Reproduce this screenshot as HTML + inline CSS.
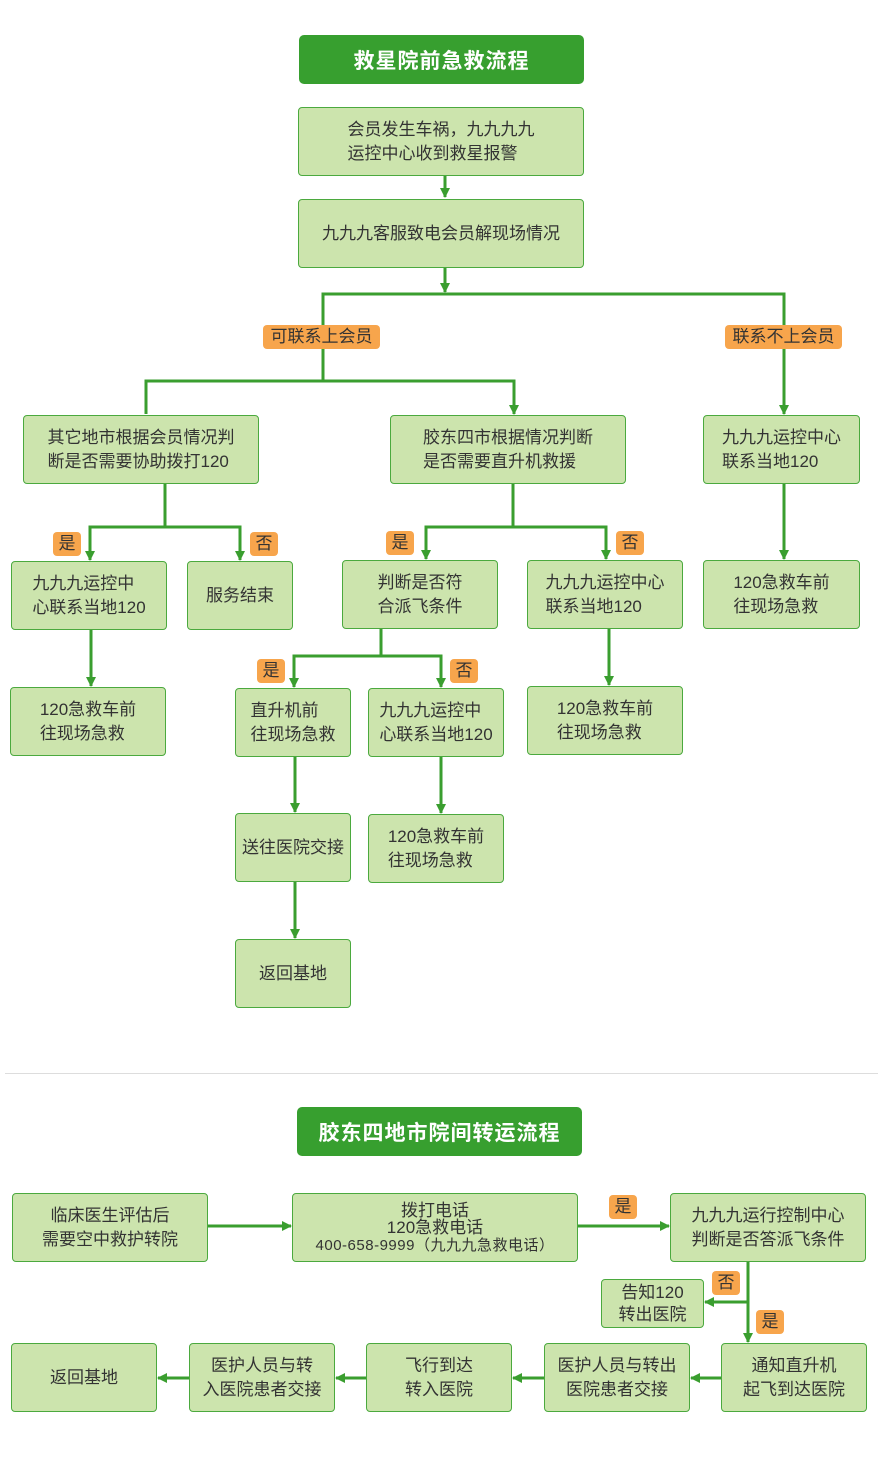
<!DOCTYPE html>
<html><head><meta charset="utf-8"><style>
body{margin:0;width:878px;height:1481px;background:#fff;position:relative;overflow:hidden;font-family:"Liberation Sans","Noto Sans CJK SC",sans-serif;}
.b{position:absolute;box-sizing:border-box;background:#cce4ad;border:1.5px solid #4ba93e;border-radius:4px;display:flex;align-items:center;justify-content:center;font-size:17px;line-height:24px;color:#333;}
.b div{text-align:left;white-space:nowrap}
.c div{text-align:center}
.t{position:absolute;box-sizing:border-box;background:#379f2f;border-radius:5px;color:#fff;font-weight:bold;font-size:21px;display:flex;align-items:center;justify-content:center;letter-spacing:1px}
.l{position:absolute;background:#f7a54c;border-radius:4px;font-size:17px;line-height:24px;height:24px;color:#333;text-align:center}
svg{position:absolute;left:0;top:0}
</style></head><body>
<svg width="878" height="1481">
<defs><marker id="a" markerWidth="10" markerHeight="10" refX="9" refY="5" orient="auto" markerUnits="userSpaceOnUse"><path d="M0,0 L10,5 L0,10z" fill="#3a9e2f"/></marker></defs>
<g stroke="#3a9e2f" stroke-width="3" fill="none">
<path d="M445,176V197" marker-end="url(#a)"/>
<path d="M445,268V292" marker-end="url(#a)"/>
<path d="M323,380V294H784V414" marker-end="url(#a)"/>
<path d="M323,350V381"/>
<path d="M146,414V381H514V414" marker-end="url(#a)"/>
<path d="M165,484V527H90V560" marker-end="url(#a)"/>
<path d="M165,527H240V560" marker-end="url(#a)"/>
<path d="M513,484V527H426V559" marker-end="url(#a)"/>
<path d="M513,527H606V559" marker-end="url(#a)"/>
<path d="M784,484V559" marker-end="url(#a)"/>
<path d="M91,630V686" marker-end="url(#a)"/>
<path d="M381,629V656H294V687" marker-end="url(#a)"/>
<path d="M381,656H441V687" marker-end="url(#a)"/>
<path d="M609,629V685" marker-end="url(#a)"/>
<path d="M295,757V812" marker-end="url(#a)"/>
<path d="M441,757V813" marker-end="url(#a)"/>
<path d="M295,882V938" marker-end="url(#a)"/>
<path d="M208,1226H291" marker-end="url(#a)"/>
<path d="M578,1226H669" marker-end="url(#a)"/>
<path d="M748,1262V1342" marker-end="url(#a)"/>
<path d="M748,1302H705" marker-end="url(#a)"/>
<path d="M721,1378H691" marker-end="url(#a)"/>
<path d="M544,1378H513" marker-end="url(#a)"/>
<path d="M366,1378H336" marker-end="url(#a)"/>
<path d="M189,1378H158" marker-end="url(#a)"/>
</g>
<line x1="5" y1="1073.5" x2="878" y2="1073.5" stroke="#ddd" stroke-width="1"/>
</svg>
<div class="t" style="left:299px;top:35px;width:285px;height:49px">救星院前急救流程</div>
<div class="b" style="left:298px;top:107px;width:286px;height:69px"><div>会员发生车祸，九九九九<br>运控中心收到救星报警</div></div>
<div class="b" style="left:298px;top:199px;width:286px;height:69px"><div>九九九客服致电会员解现场情况</div></div>
<div class="l" style="left:263px;top:325px;width:117px">可联系上会员</div>
<div class="l" style="left:725px;top:325px;width:117px">联系不上会员</div>
<div class="b" style="left:23px;top:415px;width:236px;height:69px"><div>其它地市根据会员情况判<br>断是否需要协助拨打120</div></div>
<div class="b" style="left:390px;top:415px;width:236px;height:69px"><div>胶东四市根据情况判断<br>是否需要直升机救援</div></div>
<div class="b" style="left:703px;top:415px;width:157px;height:69px"><div>九九九运控中心<br>联系当地120</div></div>
<div class="l" style="left:53px;top:532px;width:28px">是</div>
<div class="l" style="left:250px;top:532px;width:28px">否</div>
<div class="l" style="left:386px;top:531px;width:28px">是</div>
<div class="l" style="left:616px;top:531px;width:28px">否</div>
<div class="b" style="left:11px;top:561px;width:156px;height:69px"><div>九九九运控中<br>心联系当地120</div></div>
<div class="b" style="left:187px;top:561px;width:106px;height:69px"><div>服务结束</div></div>
<div class="b c" style="left:342px;top:560px;width:156px;height:69px"><div>判断是否符<br>合派飞条件</div></div>
<div class="b" style="left:527px;top:560px;width:156px;height:69px"><div>九九九运控中心<br>联系当地120</div></div>
<div class="b" style="left:703px;top:560px;width:157px;height:69px"><div>120急救车前<br>往现场急救</div></div>
<div class="b" style="left:10px;top:687px;width:156px;height:69px"><div>120急救车前<br>往现场急救</div></div>
<div class="l" style="left:257px;top:659px;width:28px">是</div>
<div class="l" style="left:450px;top:659px;width:28px">否</div>
<div class="b" style="left:235px;top:688px;width:116px;height:69px"><div>直升机前<br>往现场急救</div></div>
<div class="b" style="left:368px;top:688px;width:136px;height:69px"><div>九九九运控中<br>心联系当地120</div></div>
<div class="b" style="left:527px;top:686px;width:156px;height:69px"><div>120急救车前<br>往现场急救</div></div>
<div class="b" style="left:235px;top:813px;width:116px;height:69px"><div>送往医院交接</div></div>
<div class="b" style="left:368px;top:814px;width:136px;height:69px"><div>120急救车前<br>往现场急救</div></div>
<div class="b" style="left:235px;top:939px;width:116px;height:69px"><div>返回基地</div></div>
<div class="t" style="left:297px;top:1107px;width:285px;height:49px">胶东四地市院间转运流程</div>
<div class="b c" style="left:12px;top:1193px;width:196px;height:69px"><div>临床医生评估后<br>需要空中救护转院</div></div>
<div class="b c" style="left:292px;top:1193px;width:286px;height:69px;line-height:17px"><div>拨打电话<br>120急救电话<br><span style="font-size:15px;letter-spacing:0.5px">400-658-9999（九九九急救电话）</span></div></div>
<div class="l" style="left:609px;top:1195px;width:28px">是</div>
<div class="b c" style="left:670px;top:1193px;width:196px;height:69px"><div>九九九运行控制中心<br>判断是否答派飞条件</div></div>
<div class="b c" style="left:601px;top:1279px;width:103px;height:49px;line-height:22px"><div>告知120<br>转出医院</div></div>
<div class="l" style="left:712px;top:1271px;width:28px">否</div>
<div class="l" style="left:756px;top:1310px;width:28px">是</div>
<div class="b" style="left:11px;top:1343px;width:146px;height:69px"><div>返回基地</div></div>
<div class="b c" style="left:189px;top:1343px;width:146px;height:69px"><div>医护人员与转<br>入医院患者交接</div></div>
<div class="b c" style="left:366px;top:1343px;width:146px;height:69px"><div>飞行到达<br>转入医院</div></div>
<div class="b c" style="left:544px;top:1343px;width:146px;height:69px"><div>医护人员与转出<br>医院患者交接</div></div>
<div class="b c" style="left:721px;top:1343px;width:146px;height:69px"><div>通知直升机<br>起飞到达医院</div></div>
</body></html>
